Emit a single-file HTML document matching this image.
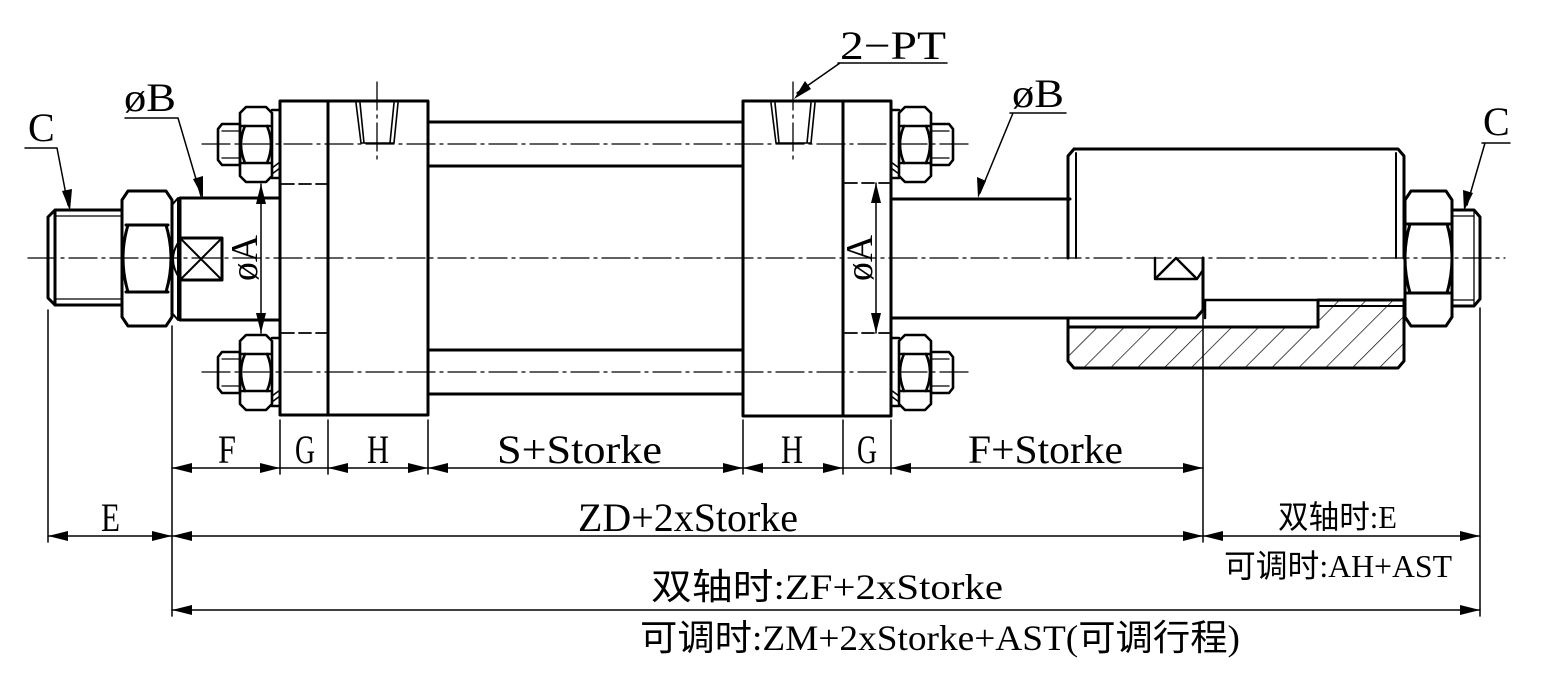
<!DOCTYPE html>
<html><head><meta charset="utf-8">
<style>
html,body{margin:0;padding:0;background:#fff;}
svg{display:block;}
text{font-family:"Liberation Serif","Noto Serif CJK SC","Noto Sans CJK SC",serif;fill:#000;}
.cn{font-family:"Liberation Sans","Noto Sans CJK SC",sans-serif;}
</style></head><body>
<svg width="1542" height="675" viewBox="0 0 1542 675" xmlns="http://www.w3.org/2000/svg">
<defs>
<pattern id="h" patternUnits="userSpaceOnUse" width="19" height="19" patternTransform="rotate(45)">
<line x1="0" y1="0" x2="0" y2="19" stroke="#000" stroke-width="1.4"/>
</pattern>
</defs>
<g fill="none" stroke="#000" stroke-linecap="round" stroke-linejoin="round">
<g stroke-width="1.3" stroke-dasharray="28,5,3,5">
<line x1="28" y1="258" x2="1505" y2="258"/>
<line x1="202" y1="144" x2="970" y2="144"/>
<line x1="202" y1="372" x2="970" y2="372"/>
<line x1="377" y1="82" x2="377" y2="160"/>
<line x1="793" y1="82" x2="793" y2="160"/>
</g>

<g stroke-width="3">
<path d="M55,210 H122 M55,305 H122 M55,210 L48,217 V298 L55,305 Z"/>
<line x1="55" y1="216" x2="122" y2="216" stroke-width="1.3"/>
<line x1="55" y1="299" x2="122" y2="299" stroke-width="1.3"/>
<path d="M128,191 H166 L172,200 V317 L166,326 H128 L122,317 V200 Z"/>
<path d="M126,225 H168 M126,292 H168"/>
<path d="M128,225 Q118,258 128,292 M166,225 Q176,258 166,292"/>
<path d="M172,205 L178,198 V320 L172,313" stroke-width="2"/>
<path d="M180,198 H280 M180,320 H280 M180,198 V320"/>
<rect x="180" y="238" width="42" height="42"/>
<path d="M180,238 L222,280 M222,238 L180,280" stroke-width="2"/>
<path d="M180,240 Q166,259 180,279" stroke-width="2"/>
<rect x="280" y="101" width="148" height="314"/>
<line x1="328" y1="101" x2="328" y2="415"/>
<path d="M428,122 H743 M428,166 H743 M428,350 H743 M428,394 H743"/>
<rect x="743" y="101" width="148" height="315"/>
<line x1="843" y1="101" x2="843" y2="416"/>
</g>
<g stroke-width="1.8" stroke-dasharray="12,5">
<line x1="282" y1="184" x2="326" y2="184"/>
<line x1="282" y1="333" x2="326" y2="333"/>
<line x1="845" y1="183" x2="889" y2="183"/>
<line x1="845" y1="333" x2="889" y2="333"/>
</g>
<g stroke-width="1.6">
<path d="M356,103 L361,143 M360,103 L364,143 M398,103 L394,143 M394,103 L390,143 M362,143 H393"/>
<path d="M771,103 L776,143 M775,103 L779,143 M815,103 L811,143 M811,103 L807,143 M777,143 H810"/>
</g>

<g stroke-width="2.6">
<g id="nl">
<path d="M222,124 H240 V165 H222 L218,160 V129 Z"/>
<line x1="222" y1="131" x2="240" y2="131" stroke-width="1.3"/>
<line x1="222" y1="158" x2="240" y2="158" stroke-width="1.3"/>
<path d="M246,107 H266 L272,113 V176 L266,182 H246 L240,176 V113 Z"/>
<path d="M242,126 H270 M242,163 H270"/>
<path d="M245,126 Q237,144 245,163 M267,126 Q275,144 267,163"/>
<path d="M272,110 H280 V178 H272"/>
<path d="M272,168 L280,162 M272,174 L280,168" stroke-width="1.5"/>
</g>
<use href="#nl" transform="translate(0,228)"/>
<g transform="translate(1171,0) scale(-1,1)">
<use href="#nl"/>
<use href="#nl" transform="translate(0,228)"/>
</g>
</g>

<g stroke-width="3">
<path d="M891,199 H1070 M891,318 H1196 L1203,310 V258"/>
<path d="M1155,258 V279 H1197 M1155,279 L1176,258 L1197,279 M1197,279 L1203,270" stroke-width="2.4"/>
<path d="M1074,149 H1398 L1404,156 V258 M1074,149 L1068,156 V258"/>
<line x1="1076" y1="153" x2="1076" y2="258" stroke-width="2"/>
<line x1="1396" y1="153" x2="1396" y2="258" stroke-width="2"/>
<path d="M1068,318 V327"/>
</g>
<path d="M1068,327 H1318 V300 H1404 V361 L1398,368 H1074 L1068,361 Z" fill="url(#h)" stroke="none"/>
<g stroke-width="3">
<path d="M1068,327 H1318 V300 H1404 V361 L1398,368 H1074 L1068,361 Z"/>
<path d="M1205,300 H1318 M1205,300 V318" stroke-width="2.5"/>
<line x1="1320" y1="306" x2="1404" y2="306" stroke-width="2"/>
<path d="M1411,191 H1446 L1452,200 V317 L1446,326 H1411 L1405,317 V200 Z"/>
<path d="M1407,224 H1450 M1407,293 H1450"/>
<path d="M1410,224 Q1400,258 1410,293 M1447,224 Q1457,258 1447,293"/>
<path d="M1452,210 H1474 L1480,217 V299 L1474,306 H1452"/>
<line x1="1452" y1="216" x2="1474" y2="216" stroke-width="1.3"/>
<line x1="1452" y1="300" x2="1474" y2="300" stroke-width="1.3"/>
<line x1="1474" y1="210" x2="1474" y2="306" stroke-width="1.3"/>
</g>

<g stroke-width="1.5">
<line x1="48" y1="310" x2="48" y2="542"/>
<line x1="172" y1="326" x2="172" y2="616"/>
<line x1="1203" y1="300" x2="1203" y2="542"/>
<line x1="1480" y1="308" x2="1480" y2="616"/>
<line x1="280" y1="420" x2="280" y2="474"/>
<line x1="328" y1="420" x2="328" y2="474"/>
<line x1="428" y1="420" x2="428" y2="474"/>
<line x1="743" y1="420" x2="743" y2="474"/>
<line x1="843" y1="420" x2="843" y2="474"/>
<line x1="891" y1="420" x2="891" y2="474"/>
<line x1="172" y1="468" x2="1203" y2="468"/>
<line x1="48" y1="536" x2="1480" y2="536"/>
<line x1="172" y1="610" x2="1480" y2="610"/>
<line x1="261" y1="184" x2="261" y2="333"/>
<line x1="876" y1="183" x2="876" y2="333"/>
<path d="M25,148 H57 L68,205"/>
<path d="M125,118 H178 L201,196"/>
<path d="M840,63 H947 L838,63 M840,63 L797,93"/>
<path d="M1010,113 H1066 M1013,113 L980,193"/>
<path d="M1482,143 H1510 M1485,143 L1467,205"/>
</g>
</g>

<g fill="#000" stroke="none">
<polygon points="172,468 192,463 192,473"/>
<polygon points="280,468 260,463 260,473"/>
<polygon points="328,468 348,463 348,473"/>
<polygon points="428,468 408,463 408,473"/>
<polygon points="428,468 448,463 448,473"/>
<polygon points="743,468 723,463 723,473"/>
<polygon points="743,468 763,463 763,473"/>
<polygon points="843,468 823,463 823,473"/>
<polygon points="891,468 911,463 911,473"/>
<polygon points="1203,468 1183,463 1183,473"/>
<polygon points="48,536 68,531 68,541"/>
<polygon points="172,536 152,531 152,541"/>
<polygon points="172,536 192,531 192,541"/>
<polygon points="1203,536 1183,531 1183,541"/>
<polygon points="1203,536 1223,531 1223,541"/>
<polygon points="1480,536 1460,531 1460,541"/>
<polygon points="172,610 192,605 192,615"/>
<polygon points="1480,610 1460,605 1460,615"/>
<polygon points="261,184 256,204 266,204"/>
<polygon points="261,333 256,313 266,313"/>
<polygon points="876,183 871,203 881,203"/>
<polygon points="876,333 871,313 881,313"/>
<polygon points="70,211 62,191 72,189"/>
<polygon points="203,198 193,179 203,176"/>
<polygon points="794,99 805,81 811,89"/>
<polygon points="978,198 977,177 986,181"/>
<polygon points="1464,211 1463,190 1473,193"/>
</g>

<g font-size="40">
<text x="28" y="141">C</text>
<text x="1483" y="135">C</text>
<text x="124" y="111" textLength="52" lengthAdjust="spacingAndGlyphs">øB</text>
<text x="1012" y="107" textLength="52" lengthAdjust="spacingAndGlyphs">øB</text>
<text x="840" y="59" textLength="106" lengthAdjust="spacingAndGlyphs">2−PT</text>
</g>
<g font-size="38">
<text transform="translate(257,258) rotate(-90)" text-anchor="middle" textLength="46" lengthAdjust="spacingAndGlyphs">øA</text>
<text transform="translate(872,258) rotate(-90)" text-anchor="middle" textLength="46" lengthAdjust="spacingAndGlyphs">øA</text>
</g>
<g font-size="40">
<text x="218" y="463" textLength="18" lengthAdjust="spacingAndGlyphs">F</text>
<text x="295" y="463" textLength="20" lengthAdjust="spacingAndGlyphs">G</text>
<text x="367" y="463" textLength="22" lengthAdjust="spacingAndGlyphs">H</text>
<text x="497" y="463" textLength="165" lengthAdjust="spacingAndGlyphs">S+Storke</text>
<text x="781" y="463" textLength="22" lengthAdjust="spacingAndGlyphs">H</text>
<text x="857" y="463" textLength="20" lengthAdjust="spacingAndGlyphs">G</text>
<text x="968" y="463" textLength="155" lengthAdjust="spacingAndGlyphs">F+Storke</text>
<text x="101" y="531" textLength="19" lengthAdjust="spacingAndGlyphs">E</text>
<text x="578" y="531" textLength="220" lengthAdjust="spacingAndGlyphs">ZD+2xStorke</text>
</g>
<g font-size="32">
<text x="1278" y="528" class="cn" textLength="119" lengthAdjust="spacingAndGlyphs">双轴时<tspan font-family="Liberation Serif">:E</tspan></text>
<text x="1224" y="577" class="cn" textLength="228" lengthAdjust="spacingAndGlyphs">可调时<tspan font-family="Liberation Serif">:AH+AST</tspan></text>
</g>
<g font-size="36">
<text x="651" y="599" class="cn" textLength="352" lengthAdjust="spacingAndGlyphs">双轴时<tspan font-family="Liberation Serif">:ZF+2xStorke</tspan></text>
<text x="640" y="650" class="cn" textLength="600" lengthAdjust="spacingAndGlyphs">可调时<tspan font-family="Liberation Serif">:ZM+2xStorke+AST(</tspan>可调行程<tspan font-family="Liberation Serif">)</tspan></text>
</g>
</svg>
</body></html>
